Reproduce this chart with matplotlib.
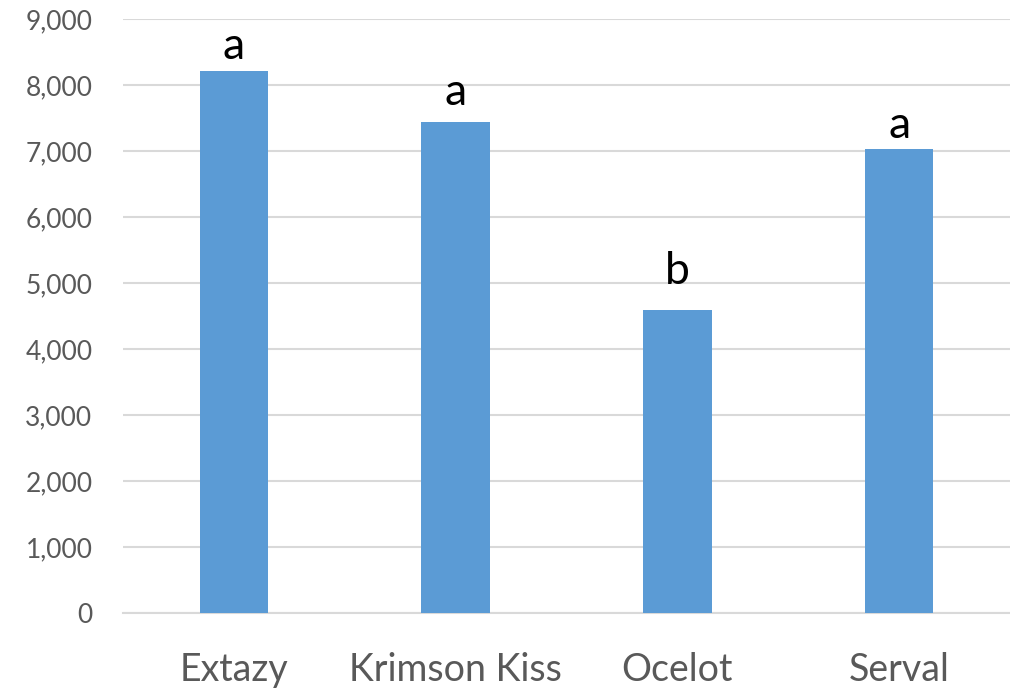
import matplotlib
matplotlib.use("Agg")
import matplotlib.pyplot as plt
import numpy as np

categories = ["Extazy", "Krimson Kiss", "Ocelot", "Serval"]
values = [8220, 7440, 4590, 7030]
letters = ["a", "a", "b", "a"]
yticks = list(range(0, 9001, 1000))

plt.rcParams['font.family'] = ['Lato', 'DejaVu Sans']

fig = plt.figure(figsize=(10.1, 6.91), dpi=100)
ax = fig.add_axes([123/1010, 1 - 613.3/691, (1010-123)/1010, (613.3-19)/691])

x = np.arange(len(categories))
bars = ax.bar(x, values, width=0.31, color="#5B9BD5", zorder=3)

offsets = [12, 17, 26, 11]
for b, lab, off in zip(bars, letters, offsets):
    ax.annotate(lab, (b.get_x() + b.get_width()/2, b.get_height()),
                xytext=(0, off*0.72), textcoords="offset points",
                ha="center", va="baseline", fontsize=32, color="black")

ax.set_xlim(-0.5, len(categories) - 0.5)
ax.set_ylim(0, 9000)
ax.set_yticks(yticks)
ax.set_yticklabels([f"{v:,}" for v in yticks])
ax.set_xticks(x)
ax.set_xticklabels(categories)
ax.yaxis.grid(True, color="#D9D9D9", linewidth=1.5, zorder=0)
ax.set_axisbelow(True)
for s in ["top", "right", "left"]:
    ax.spines[s].set_visible(False)
ax.spines["bottom"].set_color("#D9D9D9")
ax.spines["bottom"].set_linewidth(1.5)
ax.tick_params(axis="y", length=0, pad=22, labelsize=19, labelcolor="#595959")
ax.tick_params(axis="x", length=0, pad=28, labelsize=27, labelcolor="#595959")

fig.savefig("out.png", dpi=100)
